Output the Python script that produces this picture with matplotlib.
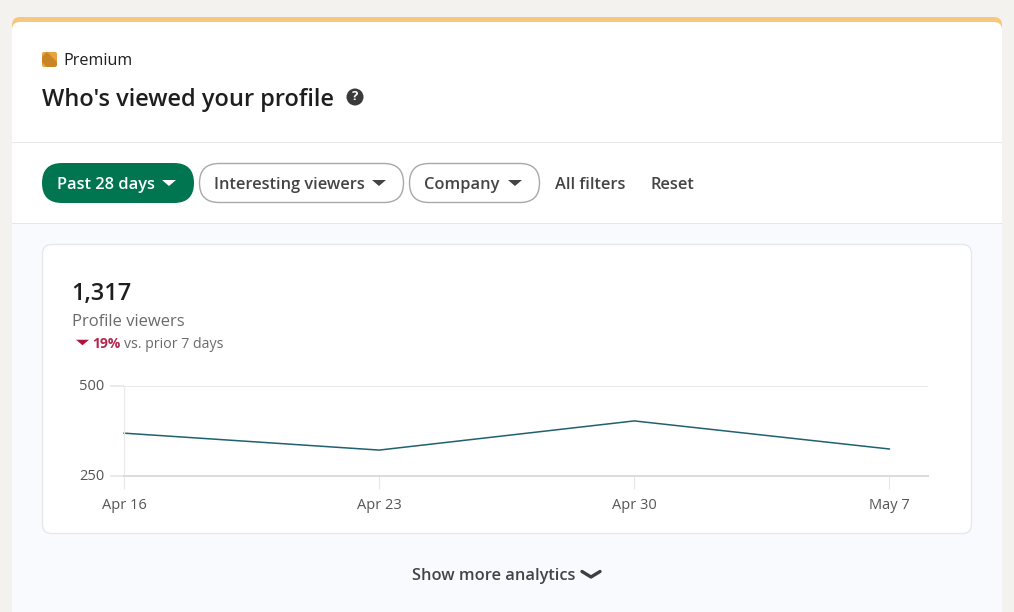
import matplotlib
matplotlib.use("Agg")
import matplotlib.pyplot as plt
from matplotlib.patches import FancyBboxPatch, Rectangle, Polygon, Circle
from matplotlib.transforms import ScaledTranslation

plt.rcParams['font.family'] = ['Open Sans', 'DejaVu Sans']

# Data
days = [0, 7, 14, 21]
date_labels = ["Apr 16", "Apr 23", "Apr 30", "May 7"]
viewers = [369, 322, 403, 325]
y_ticks = [250, 500]

W, H = 1014, 612
fig = plt.figure(figsize=(W / 100, H / 100), dpi=100, facecolor="#f3f2ee")

bg = fig.add_axes([0, 0, 1, 1], zorder=0)
bg.set_xlim(0, W)
bg.set_ylim(H, 0)
bg.axis("off")


def rbox(x0, y0, x1, y1, r, fc, ec="none", lw=0, z=1):
    bg.add_patch(FancyBboxPatch((x0 + r, y0 + r), x1 - x0 - 2 * r, y1 - y0 - 2 * r,
                                boxstyle=f"round,pad={r},rounding_size={r}",
                                fc=fc, ec=ec, lw=lw, zorder=z))


def txt(x, y, s, size, color="#3b3b3b", weight="normal", ha="left"):
    bg.text(x, y + 3, s, fontsize=size, color=color, fontweight=weight, ha=ha, va="center", zorder=5)


def caret(cx, cy, color, hw=7, h=6):
    bg.add_patch(Polygon([(cx - hw, cy - h / 2), (cx + hw, cy - h / 2), (cx, cy + h / 2)],
                         closed=True, fc=color, ec="none", zorder=5))


# Page frame
rbox(12, 17, 1002, 60, 8, "#f8c77e", z=1)
rbox(12, 22, 1002, 80, 8, "#ffffff", z=1.2)
bg.add_patch(Rectangle((12, 40), 990, 572, fc="#ffffff", ec="none", zorder=1.5))
bg.add_patch(Rectangle((12, 224), 990, 388, fc="#f8fafd", ec="none", zorder=1.6))
bg.add_patch(Rectangle((12, 142), 990, 1, fc="#e8e8e8", ec="none", zorder=2))
bg.add_patch(Rectangle((12, 223), 990, 1, fc="#e6e6e6", ec="none", zorder=2))

# Header
rbox(42, 52, 57, 67, 2, "#e7a33e", z=3)
bg.add_patch(Polygon([(47, 52), (57, 62), (57, 65), (55, 67), (47, 67), (42, 62), (42, 57)],
                     closed=True, fc="#c98426", ec="none", zorder=4))
txt(63, 58, "Premium", 11.6, "#1f1f1f")
txt(42, 97, "Who's viewed your profile", 17, "#1e1e1e", "semibold")
bg.add_patch(Circle((355, 97), 8.5, fc="#3a3a3a", ec="none", zorder=4))
bg.text(355, 97, "?", fontsize=9.5, color="white", fontweight="bold", ha="center", va="center", zorder=5)

# Filter pills
rbox(42, 163, 194, 203, 20, "#01754f", z=3)
txt(57, 182, "Past 28 days", 11.8, "#ffffff", "semibold")
caret(169, 183, "#ffffff")
rbox(199.5, 163.5, 403.5, 202.5, 19.5, "#ffffff", "#a8a8a8", 1, z=3)
txt(214, 182, "Interesting viewers", 11.8, "#444444", "semibold")
caret(379, 183, "#444444")
rbox(409.5, 163.5, 539.5, 202.5, 19.5, "#ffffff", "#a8a8a8", 1, z=3)
txt(424, 182, "Company", 11.8, "#444444", "semibold")
caret(515, 183, "#444444")
txt(555, 182, "All filters", 11.8, "#444444", "semibold")
txt(651, 182, "Reset", 11.8, "#444444", "semibold")

# Card
rbox(42.5, 244.5, 971.5, 533.5, 9, "#ffffff", "#e6e8ec", 1, z=3)
txt(71.5, 291, "1,317", 17, "#1e1e1e", "semibold")
txt(72.5, 319, "Profile viewers", 12, "#6a6a6a")
caret(82.5, 342.5, "#b3123c", hw=6.5, h=5.5)
txt(92, 341, "19%", 10, "#b3284f", "bold")
txt(124.5, 341, "vs. prior 7 days", 10.2, "#6a6a6a")

# Footer
txt(412, 573, "Show more analytics", 11.8, "#444444", "semibold")
bg.plot([582, 591, 600], [571.5, 577, 571.5], color="#3f3f3f", lw=2.4, solid_capstyle="round",
        solid_joinstyle="round", zorder=5)

# Line chart
px_left, px_right, px_top, px_bottom = 124, 928, 386, 476
ax = fig.add_axes([px_left / W, 1 - px_bottom / H, (px_right - px_left) / W, (px_bottom - px_top) / H],
                  zorder=2, facecolor="none")
ax.plot(days, viewers, color="#1f6170", lw=1.1, solid_joinstyle="miter", clip_on=False)
ax.set_xlim(0, 22.06)
ax.set_ylim(250, 500)
ax.set_xticks(days, date_labels)
ax.set_yticks(y_ticks, [str(v) for v in y_ticks])
ax.grid(axis="y", color="#e6e6e6", lw=1.2)
ax.set_axisbelow(True)
for side in ("top", "right"):
    ax.spines[side].set_visible(False)
ax.spines["bottom"].set_color("#dcdcdc")
ax.spines["bottom"].set_linewidth(1.4)
ax.spines["left"].set_color("#ebebeb")
ax.spines["left"].set_linewidth(1)
ax.tick_params(axis="x", length=9.5, width=0.8, color="#e6e6e6", labelsize=10.5, labelcolor="#555555", pad=6)
ax.tick_params(axis="y", length=10, width=1.2, color="#e6e6e6", labelsize=10.5, labelcolor="#555555", pad=4)
for lab in ax.get_yticklabels():
    lab.set_transform(lab.get_transform() + ScaledTranslation(0, 1 / 100, fig.dpi_scale_trans))

fig.savefig("out.png", dpi=100, facecolor=fig.get_facecolor())
